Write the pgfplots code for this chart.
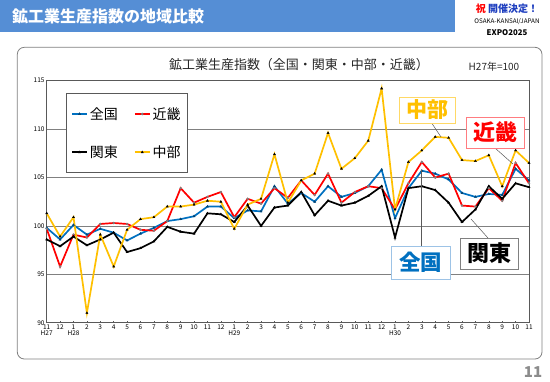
\documentclass[border=0pt]{standalone}
\usepackage{pgfplots}
\pgfplotsset{compat=1.18}
\usepackage{pgfplotstable}
\usepackage{fontspec}
\setmainfont{Noto Sans CJK JP}
\definecolor{cblue}{HTML}{0070C0}
\definecolor{cred}{HTML}{FF0000}
\definecolor{cyel}{HTML}{FFC000}
\definecolor{barblue}{HTML}{558ED5}
\definecolor{gridgray}{HTML}{808080}
\definecolor{axgray}{HTML}{595959}
\definecolor{boxyel}{HTML}{FFD966}
\definecolor{boxred}{HTML}{FF7C80}
\definecolor{boxblue}{HTML}{9DC3E6}
\definecolor{logoblue}{HTML}{1F3FBF}

\pgfplotstableread{
i zen kin kan chu
0 99.8 99.7 98.6 101.3
1 98.6 95.8 97.9 98.9
2 100.1 99.1 98.9 100.9
3 99.1 98.8 98.0 91.0
4 99.7 100.2 98.6 99.1
5 99.3 100.3 99.3 95.8
6 98.5 100.2 97.3 99.6
7 99.2 99.6 97.7 100.7
8 99.8 99.5 98.4 100.9
9 100.5 100.5 99.9 102.0
10 100.7 103.9 99.4 102.0
11 101.0 102.4 99.2 102.2
12 102.0 103.0 101.3 102.6
13 102.0 103.5 101.2 102.5
14 100.8 100.9 100.4 99.7
15 101.6 102.8 102.1 102.2
16 101.5 102.3 100.0 102.8
17 104.1 103.9 101.9 107.4
18 102.3 102.9 102.1 102.4
19 103.4 104.7 103.5 104.7
20 102.5 103.2 101.1 105.4
21 104.1 105.4 102.6 109.6
22 103.0 102.4 102.1 105.9
23 103.4 103.5 102.4 107.0
24 104.1 104.1 103.1 108.8
25 105.8 103.9 104.1 114.2
26 100.8 101.7 98.8 101.7
27 103.9 104.4 103.9 106.6
28 105.7 106.6 104.1 107.8
29 105.4 105.0 103.7 109.2
30 104.8 105.4 102.4 109.1
31 103.4 102.1 100.4 106.8
32 103.0 102.0 101.7 106.7
33 103.3 103.9 104.1 107.3
34 103.2 102.6 102.8 104.1
35 105.9 106.5 104.4 107.8
36 104.7 104.4 104.0 106.5
}\datatable

\begin{document}
\begin{tikzpicture}
\begin{scope}[x=1pt,y=-1pt]
\path[use as bounding box] (0,0) rectangle (550,381);
\fill[barblue] (0,0) rectangle (455,32);
\node[anchor=west, text=white, font=\fontsize{16}{18}\selectfont\bfseries, inner sep=0pt] at (12,16) {鉱工業生産指数の地域比較};
\node[font=\fontsize{10}{11}\selectfont\bfseries, inner sep=0pt] at (507,9) {\textcolor{red}{祝} \textcolor{logoblue}{開催決定！}};
\node[font=\fontsize{6.3}{7}\selectfont, inner sep=0pt] at (507,22) {OSAKA-KANSAI/JAPAN};
\node[font=\fontsize{7.8}{8}\selectfont\bfseries, inner sep=0pt] at (507,33) {EXPO2025};
\draw[gridgray, line width=0.8pt, rounded corners=7pt] (17.3,47.3) rectangle (542,359);
\node[font=\fontsize{13}{14}\selectfont, text=black!85, inner sep=0pt] at (299,65) {鉱工業生産指数（全国・関東・中部・近畿）};
\node[font=\fontsize{10}{11}\selectfont, text=black!85, inner sep=0pt] at (494,67) {H27年=100};
\node[font=\fontsize{15}{16}\selectfont\bfseries, text=black!45, inner sep=0pt] at (533,372) {11};
\end{scope}

\begin{axis}[
 at={(46.7pt,-322.7pt)}, anchor=south west,
 scale only axis, width=482.3pt, height=242pt,
 xmin=0, xmax=36, ymin=90, ymax=115,
 xtick={0,...,36},
 xticklabels={{11\\H27},12,{1\\H28},2,3,4,5,6,7,8,9,10,11,12,{1\\H29},2,3,4,5,6,7,8,9,10,11,12,{1\\H30},2,3,4,5,6,7,8,9,10,11},
 ytick={90,95,100,105,110,115},
 ymajorgrids,
 grid style={gridgray, line width=0.8pt},
 axis line style={axgray, line width=0.9pt},
 tick align=inside,
 xtick pos=bottom,
 major tick length=2pt,
 xtick style={axgray, line width=0.6pt},
 ytick style={draw=none},
 /pgf/number format/assume math mode=true,
 tick label style={font=\fontsize{6.5}{6.5}\selectfont, text=black},
 xticklabel style={align=center, inner sep=1.5pt},
 yticklabel style={inner sep=2pt},
 legend columns=2,
 legend style={at={(0.0394,0.950)}, anchor=north west, draw=axgray, line width=1pt, fill=white,
   font=\fontsize{14}{15}\selectfont, inner xsep=5pt, inner ysep=12pt, row sep=21pt,
   /tikz/every even column/.append style={column sep=14pt}},
 legend cell align=left,
 legend image code/.code={\draw[mark repeat=2,mark phase=2,#1] plot coordinates {(0pt,0pt) (7.5pt,0pt) (15pt,0pt)};},
 every axis plot/.append style={line width=1.7pt},
]
\addplot[cblue, mark=triangle*, mark size=1.3pt, mark options={fill=cblue!60!black, draw=cblue!60!black, line width=0.3pt}] table[x=i,y=zen] {\datatable};
\addlegendentry{全国}
\addplot[cred, mark=*, mark size=1.1pt, mark options={fill=gray, draw=gray, line width=0.3pt}] table[x=i,y=kin] {\datatable};
\addlegendentry{近畿}
\addplot[black, mark=triangle*, mark size=1.3pt, mark options={fill=black, line width=0.3pt}] table[x=i,y=kan] {\datatable};
\addlegendentry{関東}
\addplot[cyel, mark=triangle*, mark size=1.3pt, mark options={fill=black, draw=black, line width=0.3pt}] table[x=i,y=chu] {\datatable};
\addlegendentry{中部}
\end{axis}

\begin{scope}[x=1pt,y=-1pt]
\draw[axgray, line width=0.5pt] (431,122) -- (441,137);
\draw[axgray, line width=0.5pt] (495,148) -- (513,164);
\draw[axgray, line width=0.5pt] (421.5,170) -- (421.5,246);
\draw[axgray, line width=0.5pt] (471,219) -- (488,238);
\node[draw=boxyel, fill=white, line width=0.8pt, text=cyel, font=\fontsize{21}{22}\selectfont\bfseries, inner sep=0pt, minimum width=56pt, minimum height=26pt] at (427,110) {中部};
\node[draw=boxred, fill=white, line width=0.8pt, text=cred, font=\fontsize{22}{23}\selectfont\bfseries, inner sep=0pt, minimum width=58pt, minimum height=31pt] at (495,132.5) {近畿};
\node[draw=boxblue, fill=white, line width=0.8pt, text=cblue, font=\fontsize{21.5}{22}\selectfont\bfseries, inner sep=0pt, minimum width=59pt, minimum height=33pt] at (420.5,262.5) {全国};
\node[draw=gridgray, fill=white, line width=0.8pt, text=black, font=\fontsize{22}{23}\selectfont\bfseries, inner sep=0pt, minimum width=58pt, minimum height=31pt] at (489,253.5) {関東};
\end{scope}
\end{tikzpicture}
\end{document}
